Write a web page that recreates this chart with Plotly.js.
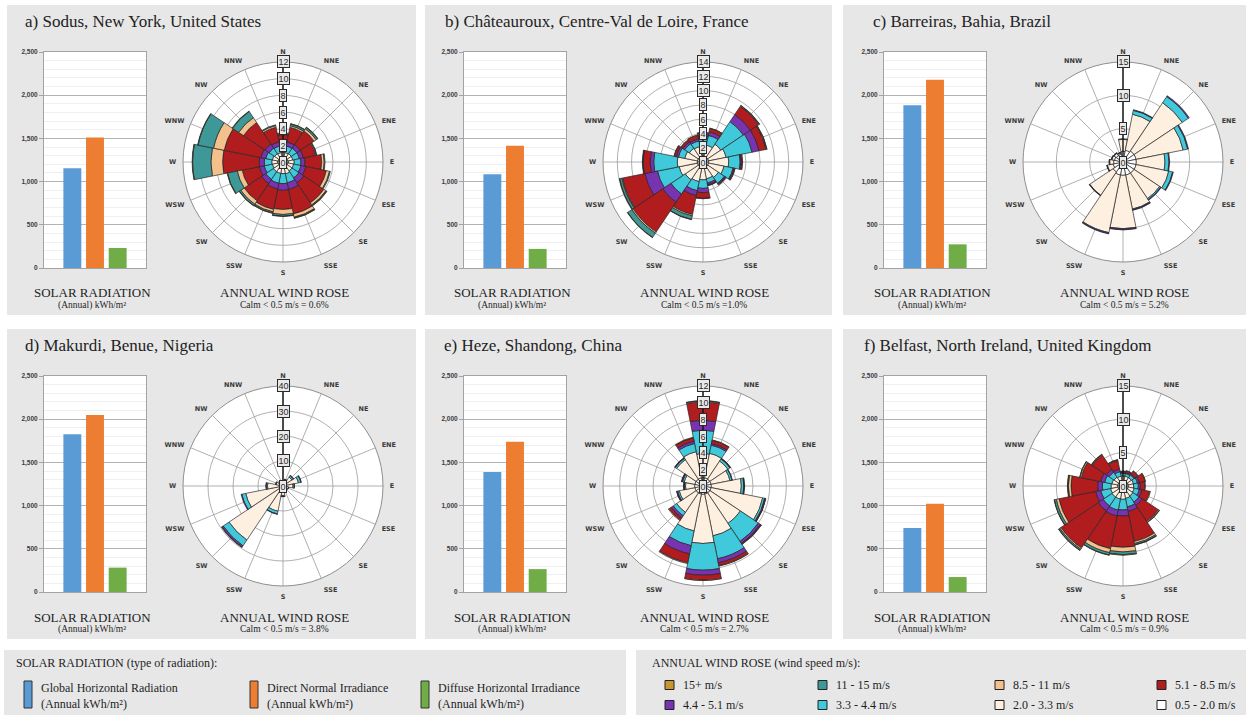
<!DOCTYPE html>
<html>
<head>
<meta charset="utf-8">
<script src="https://cdn.plot.ly/plotly-3.0.1.min.js"></script>
<style>
  html, body { margin: 0; padding: 0; background: #ffffff; }
  #chart { width: 1250px; height: 715px; }
</style>
</head>
<body>
<div id="chart"></div>
<script>
// ---------- data ----------
const locations = [
  'a) Sodus, New York, United States',
  'b) Châteauroux, Centre-Val de Loire, France',
  'c) Barreiras, Bahia, Brazil',
  'd) Makurdi, Benue, Nigeria',
  'e) Heze, Shandong, China',
  'f) Belfast, North Ireland, United Kingdom'
];
const calmText = [
  'Calm < 0.5 m/s = 0.6%',
  'Calm < 0.5 m/s =1.0%',
  'Calm < 0.5 m/s = 5.2%',
  'Calm < 0.5 m/s = 3.8%',
  'Calm < 0.5 m/s = 2.7%',
  'Calm < 0.5 m/s = 0.9%'
];

// Annual solar radiation, kWh/m²
const radiationTypes = ['Global Horizontal Radiation', 'Direct Normal Irradiance', 'Diffuse Horizontal Irradiance'];
const globalHorizontal = [1155, 1085, 1885, 1825, 1390, 740];
const directNormal     = [1510, 1415, 2180, 2050, 1740, 1020];
const diffuseHorizontal = [232, 221, 274, 282, 265, 173];

// Wind rose: 16 directions, frequency (%) per speed class
const directions = ['N','NNE','NE','ENE','E','ESE','SE','SSE','S','SSW','SW','WSW','W','WNW','NW','NNW'];
const speedBins = ['0.5 - 2.0 m/s','2.0 - 3.3 m/s','3.3 - 4.4 m/s','4.4 - 5.1 m/s','5.1 - 8.5 m/s','8.5 - 11 m/s','11 - 15 m/s','15+ m/s'];
const roseMax  = [12, 14, 15, 40, 12, 15];
const roseStep = [2, 2, 5, 10, 2, 5];

const windSodus = [
  [0.6,0.55,0.6,0.6,0.65,0.6,0.6,0.65,0.6,0.6,0.6,0.6,0.65,0.6,0.6,0.55],
  [0.6,0.6,0.6,0.6,0.7,0.7,0.7,0.8,0.8,0.8,0.8,0.7,0.7,0.7,0.6,0.6],
  [0.8,0.8,0.8,0.8,0.8,0.9,1.0,1.1,1.2,1.2,1.1,1.0,0.9,0.8,0.8,0.8],
  [0.5,0.5,0.5,0.5,0.5,0.6,0.7,0.8,0.8,0.7,0.6,0.6,0.6,0.6,0.6,0.5],
  [0.8,1.8,2.0,1.5,2.0,2.5,2.9,3.0,2.3,2.5,2.5,2.1,4.4,4.5,3.1,1.8],
  [0.1,0.2,0.3,0.1,0.3,0.4,0.3,0.4,0.6,0.3,0.5,0.6,1.4,1.3,0.7,0.2],
  [0.1,0.2,0.2,0.05,0.1,0.1,0.1,0.1,0.2,0.15,0.2,1.2,2.2,1.9,0.9,0.1],
  [0,0.05,0.05,0,0,0,0.05,0.05,0.05,0.05,0.05,0.05,0.05,0.05,0.05,0]
];
const windChateauroux = [
  [0.8,0.8,0.8,0.8,0.8,0.8,0.8,0.8,0.8,0.8,0.8,0.8,0.8,0.8,0.8,0.8],
  [1.4,1.6,2.2,2.5,2.8,2.2,1.8,1.6,1.7,2.0,2.2,2.6,2.8,1.8,1.5,1.4],
  [1.2,1.4,3.8,3.7,1.6,1.3,1.0,0.6,1.2,1.3,2.4,3.1,3.3,0.9,0.8,0.8],
  [0.3,0.5,1.2,1.0,0.15,0.15,0.15,0.25,0.6,0.7,1.4,1.8,0.5,0.3,0.3,0.3],
  [0.4,0.5,1.4,1.0,0.15,0.1,0.1,0.1,0.8,2.7,5.0,3.2,1.0,0.3,0.3,0.5],
  [0.05,0.05,0.1,0.1,0.05,0.05,0.05,0.05,0.05,0.2,0.2,0.1,0.05,0.05,0.05,0.05],
  [0,0,0.05,0.05,0,0,0,0,0,0.5,0.7,0.3,0.05,0,0,0],
  [0,0,0,0,0,0,0,0,0,0.05,0.05,0.05,0,0,0,0]
];
const windBarreiras = [
  [1.6,1.8,2.0,2.0,2.0,2.0,2.0,2.0,2.0,2.0,1.8,1.5,1.4,1.3,1.2,1.2],
  [1.8,5.5,8.7,7.2,4.3,5.0,4.6,5.2,8.0,8.8,4.2,0.9,0.6,0.4,0.4,0.2],
  [0.1,0.6,1.1,0.7,0.6,0.6,0.2,0.1,0.1,0.1,0.05,0.05,0.05,0.05,0.05,0.05],
  [0,0.1,0.15,0.1,0.1,0.1,0.1,0.1,0.1,0.1,0.05,0.05,0.05,0.05,0.05,0.05],
  [0,0,0,0,0,0,0,0,0,0,0,0,0,0,0,0],
  [0,0,0,0,0,0,0,0,0,0,0,0,0,0,0,0],
  [0,0,0,0,0,0,0,0,0,0,0,0,0,0,0,0],
  [0,0,0,0,0,0,0,0,0,0,0,0,0,0,0,0]
];
const windMakurdi = [
  [1.5,1.5,1.5,1.5,1.5,1.5,1.5,1.5,1.5,1.5,1.5,1.5,1.5,1.5,1.5,1.5],
  [0.5,1.0,2.8,4.8,2.5,0.8,0.5,1.0,2.3,8.8,24.5,13.7,4.7,1.3,0.5,0.3],
  [0.1,0.2,0.7,1.0,0.5,0.1,0.1,0.1,0.4,1.1,2.8,1.6,0.5,0.2,0.1,0.1],
  [0,0.1,0.2,0.2,0.1,0,0,0,0.1,0.2,0.6,0.3,0.2,0.1,0,0],
  [0,0,0,0,0,0,0,0,0,0,0.2,0,0,0,0,0],
  [0,0,0,0,0,0,0,0,0,0,0,0,0,0,0,0],
  [0,0,0,0,0,0,0,0,0,0,0,0,0,0,0,0],
  [0,0,0,0,0,0,0,0,0,0,0,0,0,0,0,0]
];
const windHeze = [
  [1.0,1.0,1.0,1.0,1.0,1.0,1.0,1.0,1.0,1.0,1.0,1.0,1.0,1.0,1.0,1.0],
  [2.9,3.0,2.6,2.3,3.6,6.3,4.4,5.1,5.9,4.5,2.8,1.9,1.1,1.3,2.8,3.2],
  [2.8,1.0,0.3,0.25,0.3,0.25,2.6,2.8,3.2,1.8,0.5,0.2,0.15,0.2,0.2,1.0],
  [1.2,0.2,0.05,0.05,0.05,0.1,0.3,0.5,0.6,1.0,0.3,0.1,0.05,0.1,0.05,0.3],
  [2.2,0.4,0.05,0,0.05,0.05,0.1,0.35,0.6,1.1,0.3,0.05,0.05,0.05,0.05,0.4],
  [0.1,0.05,0,0,0,0,0.05,0.05,0.05,0.1,0.1,0,0,0,0,0.05],
  [0.05,0,0,0,0,0,0,0,0,0,0,0,0,0,0,0],
  [0,0,0,0,0,0,0,0,0,0,0,0,0,0,0,0]
];
const windBelfast = [
  [0.8,0.8,0.8,0.8,0.8,0.8,0.8,0.8,0.8,0.8,0.8,0.8,0.8,0.8,0.8,0.8],
  [0.7,0.7,0.7,0.8,0.8,0.9,1.0,1.1,1.2,1.2,1.2,1.1,1.0,0.9,0.8,0.7],
  [0.4,0.4,0.5,0.6,0.7,0.8,1.1,1.3,1.6,1.7,1.6,1.5,1.3,1.1,0.9,0.7],
  [0.15,0.15,0.2,0.3,0.3,0.4,0.6,0.7,0.9,0.9,0.9,0.8,0.7,0.6,0.5,0.4],
  [0.15,0.25,0.5,0.9,0.7,1.2,2.9,4.6,4.7,5.0,6.7,5.6,4.0,3.0,2.6,1.3],
  [0.05,0.05,0.05,0.05,0.05,0.1,0.15,0.3,0.7,0.6,0.2,0.4,0.4,0.2,0.1,0.1],
  [0,0,0,0,0,0,0.05,0.2,0.4,0.35,0.2,0.3,0.1,0.05,0.05,0.05],
  [0,0,0,0,0,0,0,0.05,0.1,0.05,0.05,0.05,0.05,0,0,0]
];
const roses = [windSodus, windChateauroux, windBarreiras, windMakurdi, windHeze, windBelfast];

// ---------- styling ----------
const radiationColors = ['#5b9bd5', '#ed7d31', '#70ad47'];
const binColors = ['#ffffff', '#fdf0e0', '#3fc9db', '#7733b0', '#b11c1f', '#f4c08b', '#3e9898', '#c8962c'];
const SERIF = 'Liberation Serif, Times New Roman, serif';
const SANS = 'Liberation Sans, Arial, sans-serif';
const PANEL_BG = '#e7e7e7';

const W = 1250, H = 715;
const fx = p => p / W;        // pixel x -> paper
const fy = p => 1 - p / H;    // pixel y -> paper

const colOffset = [0, 420, 840, 0, 420, 840];
const rowOffset = [0, 0, 0, 324, 324, 324];
const panelLeft = [7, 425, 843, 7, 425, 843];
const panelRight = [416, 832, 1246, 416, 832, 1246];
const titleX = [22.5, 442.5, 871, 22.5, 441.5, 862];
const angles = directions.map((d, k) => k * 360 / directions.length);

const data = [];
const shapes = [];
const annotations = [];
const layout = {
  width: W, height: H,
  margin: {l: 0, r: 0, t: 0, b: 0},
  paper_bgcolor: '#ffffff',
  plot_bgcolor: '#ffffff',
  showlegend: false,
  bargap: 0.21,
  shapes: shapes,
  annotations: annotations
};

function txt(x, y, text, size, opts) {
  annotations.push(Object.assign({
    xref: 'paper', yref: 'paper', x: fx(x), y: fy(y), text: text,
    showarrow: false, xanchor: 'center', yanchor: 'middle',
    font: {family: SERIF, size: size, color: '#1e1e1e'}
  }, opts || {}));
}

locations.forEach((loc, i) => {
  const ox = colOffset[i], oy = rowOffset[i];
  const n = i + 1;
  const sfx = n === 1 ? '' : String(n);

  // grey panel
  shapes.push({type: 'rect', xref: 'paper', yref: 'paper', layer: 'below',
    x0: fx(panelLeft[i]), x1: fx(panelRight[i]), y0: fy(315 + oy), y1: fy(5 + oy),
    fillcolor: PANEL_BG, line: {width: 0}});

  // ---- solar radiation bars ----
  const bx0 = 44 + ox, bx1 = 146 + ox, by0 = 52 + oy, by1 = 268 + oy;
  shapes.push({type: 'rect', xref: 'paper', yref: 'paper', layer: 'below',
    x0: fx(bx0), x1: fx(bx1), y0: fy(by1), y1: fy(by0),
    fillcolor: '#ffffff', line: {width: 0}});

  layout['xaxis' + sfx] = {
    domain: [fx(bx0), fx(bx1)], anchor: 'y' + sfx, type: 'category',
    range: [-1.25, 3.25], showticklabels: false, ticks: '', showgrid: false,
    zeroline: false, showline: true, mirror: true, linecolor: '#a3a3a3', linewidth: 1,
    fixedrange: true
  };
  layout['yaxis' + sfx] = {
    domain: [fy(by1), fy(by0)], anchor: 'x' + sfx,
    range: [0, 2500], tickmode: 'array', tickvals: [0, 500, 1000, 1500, 2000, 2500],
    tickformat: ',d', ticks: 'outside', ticklen: 4, tickcolor: '#a3a3a3',
    tickfont: {family: SANS, size: 6.5, color: '#3c3c3c', weight: 'bold'},
    showgrid: true, gridcolor: '#b3b3b3', gridwidth: 1,
    minor: {dtick: 100, showgrid: true, gridcolor: '#e4e4e4', gridwidth: 0.6, ticks: ''},
    zeroline: false, showline: true, mirror: true, linecolor: '#a3a3a3', linewidth: 1,
    fixedrange: true
  };
  data.push({
    type: 'bar', xaxis: 'x' + sfx, yaxis: 'y' + sfx,
    x: radiationTypes,
    y: [globalHorizontal[i], directNormal[i], diffuseHorizontal[i]],
    marker: {color: radiationColors, line: {width: 0}},
    hoverinfo: 'x+y'
  });

  // ---- wind rose ----
  const cx = 283 + ox, cy = 162 + oy, R = 100;
  const polarName = 'polar' + sfx;
  layout[polarName] = {
    domain: {x: [fx(cx - R), fx(cx + R)], y: [fy(cy + R), fy(cy - R)]},
    bgcolor: '#ffffff',
    barmode: 'stack',
    bargap: 0,
    angularaxis: {
      rotation: 90, direction: 'clockwise', thetaunit: 'degrees',
      tickmode: 'array', tickvals: angles, ticktext: directions,
      showgrid: true, gridcolor: '#9c9c9c', gridwidth: 0.8,
      showline: true, linecolor: '#8f8f8f', linewidth: 1,
      ticks: 'outside', ticklen: 5, tickcolor: 'rgba(0,0,0,0)',
      tickfont: {family: 'DejaVu Sans, sans-serif', size: 6.5, color: '#3a3a3a', weight: 'bold'}
    },
    radialaxis: {
      range: [0, roseMax[i]], tickmode: 'linear', tick0: 0, dtick: roseStep[i],
      angle: 90, showticklabels: false, ticks: '',
      showline: true, linecolor: '#111111', linewidth: 1.4,
      showgrid: true, gridcolor: '#9c9c9c', gridwidth: 0.8
    }
  };
  roses[i].forEach((freq, b) => {
    data.push({
      type: 'barpolar', subplot: polarName,
      r: freq, theta: angles, width: 360 / directions.length,
      name: speedBins[b],
      marker: {color: binColors[b], line: {color: '#262626', width: 0.7}},
      hovertemplate: '%{theta}: %{r}%<extra>' + speedBins[b] + '</extra>'
    });
  });
  // boxed radial scale labels up the north axis
  for (let v = 0; v <= roseMax[i] + 1e-9; v += roseStep[i]) {
    txt(cx, cy - v / roseMax[i] * R, String(v), 9, {
      font: {family: SANS, size: 9, color: '#2a2a2a'},
      bgcolor: '#e9e9e9', bordercolor: '#2a2a2a', borderwidth: 1, borderpad: 0.5
    });
  }

  // ---- text ----
  txt(titleX[i], 21.5 + oy, loc, 17, {xanchor: 'left', font: {family: SERIF, size: 17, color: '#222222'}});
  txt(92 + ox, 293 + oy, 'SOLAR RADIATION', 13);
  txt(92 + ox, 305 + oy, '(Annual) kWh/m²', 9.5);
  txt(284 + ox, 293 + oy, 'ANNUAL WIND ROSE', 13);
  txt(284 + ox, 305 + oy, calmText[i], 9.5);
});

// ---------- legend boxes ----------
shapes.push({type: 'rect', xref: 'paper', yref: 'paper', layer: 'below',
  x0: fx(4), x1: fx(626), y0: fy(715), y1: fy(650), fillcolor: PANEL_BG, line: {width: 0}});
shapes.push({type: 'rect', xref: 'paper', yref: 'paper', layer: 'below',
  x0: fx(636), x1: fx(1246), y0: fy(715), y1: fy(650), fillcolor: PANEL_BG, line: {width: 0}});

txt(14, 663, 'SOLAR RADIATION (type of radiation):', 12, {xanchor: 'left'});
const radLegendX = [24, 250, 421];
radiationTypes.forEach((name, k) => {
  const x = radLegendX[k];
  shapes.push({type: 'rect', xref: 'paper', yref: 'paper',
    x0: fx(x), x1: fx(x + 8), y0: fy(708), y1: fy(681),
    fillcolor: radiationColors[k], line: {color: '#333333', width: 1}});
  txt(x + 15, 696, name + '<br>(Annual kWh/m²)', 12, {xanchor: 'left', align: 'left'});
});

txt(650, 663, 'ANNUAL WIND ROSE (wind speed m/s):', 12, {xanchor: 'left'});
const windLegendX = [665, 818, 995, 1157];
const windLegendY = [685, 705];
for (let b = speedBins.length - 1; b >= 0; b--) {
  const idx = speedBins.length - 1 - b;
  const x = windLegendX[idx % 4], y = windLegendY[Math.floor(idx / 4)];
  shapes.push({type: 'rect', xref: 'paper', yref: 'paper',
    x0: fx(x), x1: fx(x + 9), y0: fy(y + 4.5), y1: fy(y - 4.5),
    fillcolor: binColors[b], line: {color: '#222222', width: 1}});
  txt(x + 16, y, speedBins[b], 12, {xanchor: 'left'});
}

Plotly.newPlot('chart', data, layout, {staticPlot: true, displayModeBar: false});
</script>
</body>
</html>
